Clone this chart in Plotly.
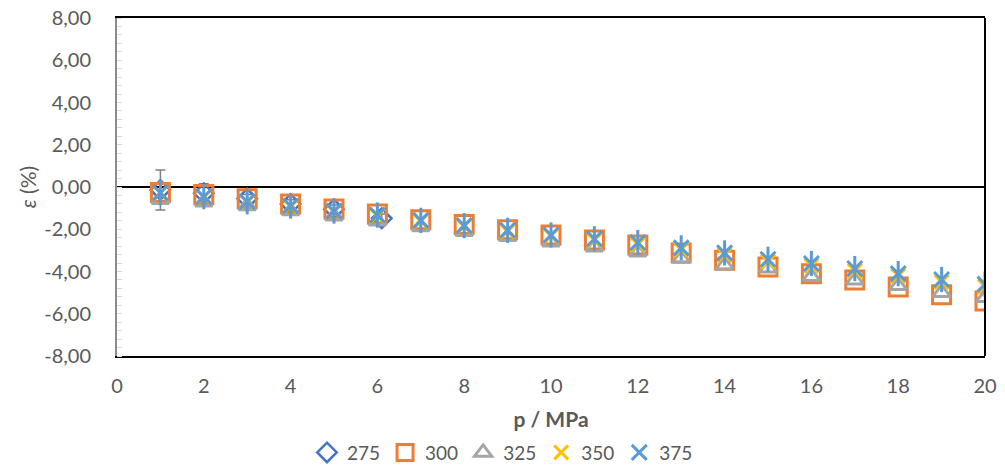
import plotly.graph_objects as go

# Pressure grid (MPa) and relative deviations epsilon (%) per temperature series
p = list(range(1, 21))
p_275 = [1, 2, 3, 4, 5, 6.1]

eps_275 = [-0.14, -0.30, -0.55, -0.80, -1.05, -1.48]
err_275 = [0.95, 0.45, 0.20, 0.20, 0.20, 0.20]

eps_300 = [-0.26, -0.35, -0.56, -0.80, -1.04, -1.28, -1.55, -1.78, -2.02, -2.27,
           -2.51, -2.75, -3.12, -3.47, -3.79, -4.11, -4.40, -4.73, -5.10, -5.40]
eps_325 = [-0.60, -0.72, -0.90, -1.14, -1.38, -1.62, -1.89, -2.12, -2.36, -2.61,
           -2.85, -3.09, -3.38, -3.70, -3.85, -4.25, -4.42, -4.68, -5.00, -5.24]
eps_350 = [-0.28, -0.48, -0.72, -0.93, -1.17, -1.37, -1.62, -1.87, -2.10, -2.32,
           -2.52, -2.72, -2.97, -3.22, -3.52, -3.72, -3.97, -4.20, -4.50, -4.72]
eps_375 = [-0.27, -0.46, -0.70, -0.90, -1.14, -1.33, -1.58, -1.83, -2.05, -2.27,
           -2.45, -2.63, -2.88, -3.12, -3.42, -3.62, -3.86, -4.10, -4.38, -4.60]

y_ticks = [-8, -6, -4, -2, 0, 2, 4, 6, 8]
y_tick_labels = ["-8,00", "-6,00", "-4,00", "-2,00", "0,00",
                 "2,00", "4,00", "6,00", "8,00"]
x_ticks = list(range(0, 21, 2))

FONT = "Lato, 'Open Sans', sans-serif"
TXT = "#595959"

fig = go.Figure()

fig.add_trace(go.Scatter(
    x=p_275, y=eps_275, name="275", mode="markers",
    marker=dict(symbol="diamond-open", size=15, color="#4472C4",
                line=dict(width=2.5, color="#4472C4")),
    error_y=dict(type="data", array=err_275, visible=True,
                 color="#808080", thickness=1.5, width=5),
))
fig.add_trace(go.Scatter(
    x=p, y=eps_300, name="300", mode="markers",
    marker=dict(symbol="square-open", size=18, color="#ED7D31",
                line=dict(width=3, color="#ED7D31")),
))
fig.add_trace(go.Scatter(
    x=p, y=eps_325, name="325", mode="markers",
    marker=dict(symbol="triangle-up-open", size=15, color="#A5A5A5",
                line=dict(width=3, color="#A5A5A5")),
))
fig.add_trace(go.Scatter(
    x=p, y=eps_350, name="350", mode="markers",
    marker=dict(symbol="x-thin-open", size=14, color="#FFC000",
                line=dict(width=3, color="#FFC000")),
))
# star marker built from a diagonal cross plus a vertical bar
fig.add_trace(go.Scatter(
    x=p, y=eps_375, name="375", mode="markers", legendgroup="375",
    marker=dict(symbol="x-thin-open", size=15, color="#5B9BD5",
                line=dict(width=3, color="#5B9BD5")),
))
fig.add_trace(go.Scatter(
    x=p, y=eps_375, name="375", mode="markers", legendgroup="375",
    showlegend=False,
    marker=dict(symbol="line-ns-open", size=18, color="#5B9BD5",
                line=dict(width=3, color="#5B9BD5")),
))

fig.update_layout(
    width=1005, height=469,
    margin=dict(l=117, r=20, t=18, b=113, autoexpand=False),
    paper_bgcolor="white", plot_bgcolor="white",
    font=dict(family=FONT, size=20, color=TXT),
    showlegend=True,
    legend=dict(orientation="h", xref="container", yref="container",
                x=0.5, xanchor="center", y=0.035, yanchor="middle",
                font=dict(family=FONT, size=19, color=TXT),
                itemwidth=30, tracegroupgap=0),
    xaxis=dict(
        range=[0, 20], tickvals=x_ticks, ticks="", automargin=False,
        showgrid=False, zeroline=False,
        showline=True, linecolor="black", linewidth=1.5, mirror=True,
        ticklabelstandoff=11,
        tickfont=dict(family=FONT, size=20, color=TXT),
        title=dict(text="<b>p / MPa</b>", standoff=17,
                   font=dict(family=FONT, size=21, color=TXT)),
    ),
    yaxis=dict(
        range=[-8, 8], tickvals=y_ticks, ticktext=y_tick_labels, ticks="",
        automargin=False, showgrid=False,
        zeroline=True, zerolinecolor="black", zerolinewidth=1.5,
        showline=True, linecolor="#8C8C8C", linewidth=2,
        minor=dict(dtick=0.4, ticks="inside", ticklen=5,
                   tickcolor="#D9D9D9", tickwidth=1),
        ticklabelstandoff=20,
        tickfont=dict(family=FONT, size=20, color=TXT),
        title=dict(text="<i>ε</i> (%)", standoff=2,
                   font=dict(family=FONT, size=21, color=TXT)),
    ),
    shapes=[dict(type="line", xref="paper", yref="paper",
                 x0=1, x1=1, y0=0, y1=1,
                 line=dict(color="black", width=2))],
)

fig.write_html("out.html")
